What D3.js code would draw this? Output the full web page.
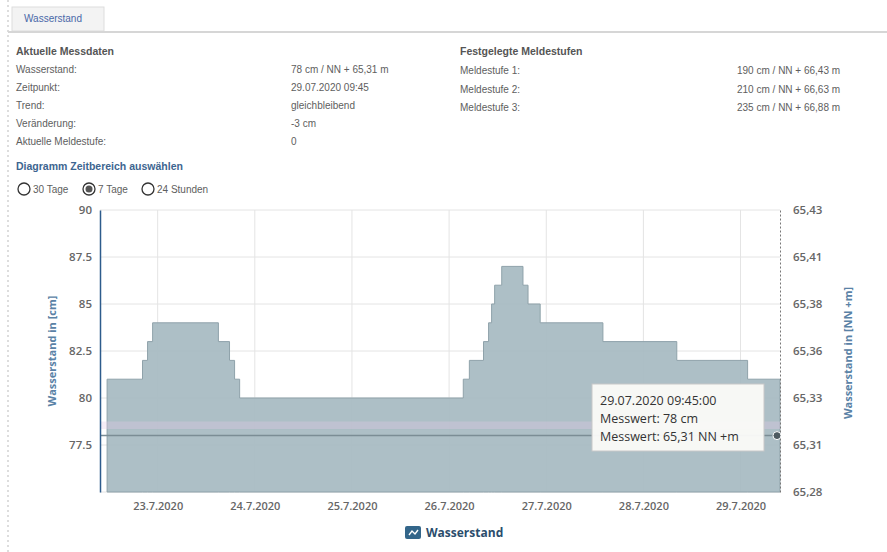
<!DOCTYPE html>
<html>
<head>
<meta charset="utf-8">
<script src="https://cdn.jsdelivr.net/npm/d3@7"></script>
<style>
  body { margin: 0; background: #fff; }
  svg { display: block; }
</style>
</head>
<body>
<div id="main"></div>
<script>
// water level steps: time where a new level starts, level in cm
const stepTimes = [
  '2020-07-22T11:30', '2020-07-22T20:15', '2020-07-22T21:30', '2020-07-22T22:45',
  '2020-07-23T15:00', '2020-07-23T17:45', '2020-07-23T19:00', '2020-07-23T20:15',
  '2020-07-26T03:30', '2020-07-26T05:00', '2020-07-26T08:30', '2020-07-26T09:45',
  '2020-07-26T10:30', '2020-07-26T11:15', '2020-07-26T13:00', '2020-07-26T18:15',
  '2020-07-26T19:30', '2020-07-26T22:30', '2020-07-27T14:00', '2020-07-28T08:15',
  '2020-07-29T01:45', '2020-07-29T09:30', '2020-07-29T09:45'
];
const stepValues = [
  81, 82, 83, 84,
  83, 82, 81, 80,
  81, 82, 83, 84,
  85, 86, 87, 86,
  85, 84, 83, 82,
  81, 81, 78
];
const dayTicks = ['2020-07-23', '2020-07-24', '2020-07-25', '2020-07-26', '2020-07-27', '2020-07-28', '2020-07-29'];
const dayLabels = ['23.7.2020', '24.7.2020', '25.7.2020', '26.7.2020', '27.7.2020', '28.7.2020', '29.7.2020'];
const cmTicks = [75, 77.5, 80, 82.5, 85, 87.5, 90];
const cmLabels = ['', '77.5', '80', '82.5', '85', '87.5', '90'];
const nnLabels = ['65,28', '65,31', '65,33', '65,36', '65,38', '65,41', '65,43'];

const infoLabels = ['Wasserstand:', 'Zeitpunkt:', 'Trend:', 'Veränderung:', 'Aktuelle Meldestufe:'];
const infoValues = ['78 cm / NN + 65,31 m', '29.07.2020 09:45', 'gleichbleibend', '-3 cm', '0'];
const levelLabels = ['Meldestufe 1:', 'Meldestufe 2:', 'Meldestufe 3:'];
const levelValues = ['190 cm / NN + 66,43 m', '210 cm / NN + 66,63 m', '235 cm / NN + 66,88 m'];
const rangeOptions = ['30 Tage', '7 Tage', '24 Stunden'];
const tooltipLines = ['29.07.2020 09:45:00', 'Messwert: 78 cm', 'Messwert: 65,31 NN +m'];

const width = 887;
const height = 552;
const plot = { left: 100, right: 780, top: 210, bottom: 492 };
const textGray = '#5e5e5e';

const parse = d3.timeParse('%Y-%m-%dT%H:%M');
const parseDay = d3.timeParse('%Y-%m-%d');
const data = stepTimes.map((t, i) => ({ t: parse(t), v: stepValues[i] }));

const svg = d3.select('#main')
  .append('svg')
  .attr('width', width)
  .attr('height', height)
  .style('font-family', '"Liberation Sans", Arial, sans-serif');

// page frame: dashed left border, tab and rule
svg.append('line')
  .attr('x1', 8).attr('x2', 8).attr('y1', 0).attr('y2', height)
  .attr('stroke', '#bbb').attr('stroke-dasharray', '2,3');
svg.append('rect')
  .attr('x', 12).attr('y', 7).attr('width', 92).attr('height', 24)
  .attr('fill', '#f3f3f3').attr('stroke', '#ddd');
svg.append('text')
  .attr('x', 24).attr('y', 22)
  .attr('font-size', 10).attr('fill', '#4a68a8')
  .text('Wasserstand');
svg.append('line')
  .attr('x1', 8).attr('x2', width).attr('y1', 32).attr('y2', 32)
  .attr('stroke', '#d6d6d6').attr('stroke-width', 2);

// info block left
svg.append('text')
  .attr('x', 16).attr('y', 55)
  .attr('font-size', 10.5).attr('font-weight', 'bold').attr('fill', '#555')
  .text('Aktuelle Messdaten');
const infoRows = svg.append('g').selectAll('g')
  .data(infoLabels)
  .enter()
  .append('g')
  .attr('transform', (d, i) => `translate(0, ${73 + i * 18})`)
  .attr('font-size', 10).attr('fill', textGray);
infoRows.append('text').attr('x', 16).text(d => d);
infoRows.append('text').attr('x', 291).text((d, i) => infoValues[i]);

// info block right
svg.append('text')
  .attr('x', 460).attr('y', 55)
  .attr('font-size', 10.5).attr('font-weight', 'bold').attr('fill', '#555')
  .text('Festgelegte Meldestufen');
const levelRows = svg.append('g').selectAll('g')
  .data(levelLabels)
  .enter()
  .append('g')
  .attr('transform', (d, i) => `translate(0, ${74 + i * 18.5})`)
  .attr('font-size', 10).attr('fill', textGray);
levelRows.append('text').attr('x', 460).text(d => d);
levelRows.append('text').attr('x', 737).text((d, i) => levelValues[i]);

// time range selector
svg.append('text')
  .attr('x', 16).attr('y', 170)
  .attr('font-size', 10.5).attr('font-weight', 'bold').attr('fill', '#3d6590')
  .text('Diagramm Zeitbereich auswählen');
const radioX = [24, 89, 148];
const radios = svg.append('g').selectAll('g')
  .data(rangeOptions)
  .enter()
  .append('g')
  .attr('transform', (d, i) => `translate(${radioX[i]}, 189)`);
radios.append('circle')
  .attr('r', 6).attr('fill', '#fff').attr('stroke', '#333').attr('stroke-width', 1.3);
radios.filter((d, i) => i === 1).append('circle')
  .attr('r', 3.5).attr('fill', '#555');
radios.append('text')
  .attr('x', 9).attr('y', 3.5)
  .attr('font-size', 10).attr('fill', textGray)
  .text(d => d);

// scales
const x = d3.scaleTime()
  .domain([parse('2020-07-22T09:45'), parse('2020-07-29T09:45')])
  .range([plot.left, plot.right]);
const y = d3.scaleLinear()
  .domain([75, 90])
  .range([plot.bottom, plot.top]);

// grid lines
const grid = svg.append('g').attr('stroke', '#e4e4e4').attr('stroke-width', 1);
grid.selectAll('.hgrid')
  .data(cmTicks)
  .enter()
  .append('line')
  .attr('x1', plot.left).attr('x2', plot.right)
  .attr('y1', d => y(d)).attr('y2', d => y(d));
grid.selectAll('.vgrid')
  .data(dayTicks)
  .enter()
  .append('line')
  .attr('x1', d => x(parseDay(d))).attr('x2', d => x(parseDay(d)))
  .attr('y1', plot.top).attr('y2', plot.bottom);

// step area
const area = d3.area()
  .curve(d3.curveStepAfter)
  .x(d => x(d.t))
  .y0(plot.bottom)
  .y1(d => y(d.v));
svg.append('path')
  .datum(data)
  .attr('d', area)
  .attr('fill', '#a7bac2')
  .attr('fill-opacity', 0.93)
  .attr('stroke', '#8fa2aa')
  .attr('stroke-width', 1);

// faint band and crosshair at current level
svg.append('rect')
  .attr('x', plot.left).attr('width', plot.right - plot.left)
  .attr('y', y(78.75)).attr('height', y(78.35) - y(78.75))
  .attr('fill', '#e3c9e6').attr('fill-opacity', 0.35);
const last = data[data.length - 1];
svg.append('line')
  .attr('x1', plot.left).attr('x2', plot.right)
  .attr('y1', y(last.v)).attr('y2', y(last.v))
  .attr('stroke', '#7b8d95').attr('stroke-width', 1.5);

// left axis
const yAxisLeft = d3.axisLeft(y)
  .tickValues(cmTicks)
  .tickSize(0)
  .tickPadding(8)
  .tickFormat((d, i) => cmLabels[i]);
const gLeft = svg.append('g')
  .attr('transform', `translate(${plot.left},0)`)
  .call(yAxisLeft);
gLeft.select('.domain').attr('stroke', '#2d5b8c').attr('stroke-width', 1.5);
gLeft.selectAll('text')
  .attr('font-family', '"Open Sans", sans-serif')
  .attr('font-size', 11.5).attr('font-weight', 600).attr('fill', '#666');

// right axis
const yAxisRight = d3.axisRight(y)
  .tickValues(cmTicks)
  .tickSize(0)
  .tickPadding(13)
  .tickFormat((d, i) => nnLabels[i]);
const gRight = svg.append('g')
  .attr('transform', `translate(${plot.right},0)`)
  .call(yAxisRight);
gRight.select('.domain').attr('stroke', '#777').attr('stroke-dasharray', '2,2');
gRight.selectAll('text')
  .attr('font-family', '"Open Sans", sans-serif')
  .attr('font-size', 11.5).attr('font-weight', 600).attr('fill', '#666');

// x axis
const xAxis = d3.axisBottom(x)
  .tickValues(dayTicks.map(parseDay))
  .tickSize(0)
  .tickPadding(10)
  .tickFormat((d, i) => dayLabels[i]);
const gX = svg.append('g')
  .attr('transform', `translate(0,${plot.bottom})`)
  .call(xAxis);
gX.select('.domain').remove();
gX.selectAll('text')
  .attr('font-family', '"Open Sans", sans-serif')
  .attr('font-size', 11).attr('font-weight', 600).attr('fill', '#666');

// axis titles
svg.append('text')
  .attr('transform', 'translate(56,351) rotate(-90)')
  .attr('text-anchor', 'middle')
  .attr('font-family', '"Open Sans", sans-serif')
  .attr('font-size', 11).attr('font-weight', 'bold').attr('fill', '#5a82a6')
  .text('Wasserstand in [cm]');
svg.append('text')
  .attr('transform', 'translate(852,353) rotate(-90)')
  .attr('text-anchor', 'middle')
  .attr('font-family', '"Open Sans", sans-serif')
  .attr('font-size', 11).attr('font-weight', 'bold').attr('fill', '#5a82a6')
  .text('Wasserstand in [NN +m]');

// tooltip
const tip = svg.append('g').attr('transform', 'translate(592,384)');
tip.append('rect')
  .attr('width', 172).attr('height', 67)
  .attr('fill', '#fbfbf8').attr('fill-opacity', 0.95)
  .attr('stroke', '#c8c8c8');
tip.selectAll('text')
  .data(tooltipLines)
  .enter()
  .append('text')
  .attr('x', 8)
  .attr('y', (d, i) => 21 + i * 18)
  .attr('font-family', '"Open Sans", sans-serif')
  .attr('font-size', 12.5).attr('fill', '#333')
  .text(d => d);

// hovered point marker
svg.append('circle')
  .attr('cx', x(last.t) - 3).attr('cy', y(last.v))
  .attr('r', 4)
  .attr('fill', '#4e5a60').attr('stroke', '#fff').attr('stroke-width', 1);

// legend
const legend = svg.append('g').attr('transform', 'translate(405,526)');
legend.append('rect')
  .attr('width', 16).attr('height', 13).attr('rx', 2)
  .attr('fill', '#33668a');
legend.append('path')
  .attr('d', 'M4,9 L7,5 L10,8 L13,4')
  .attr('fill', 'none').attr('stroke', '#fff').attr('stroke-width', 1.4);
legend.append('text')
  .attr('x', 21).attr('y', 11)
  .attr('font-family', '"Open Sans", sans-serif')
  .attr('font-size', 12).attr('font-weight', 'bold').attr('fill', '#2b4d6c')
  .text('Wasserstand');
</script>
</body>
</html>
